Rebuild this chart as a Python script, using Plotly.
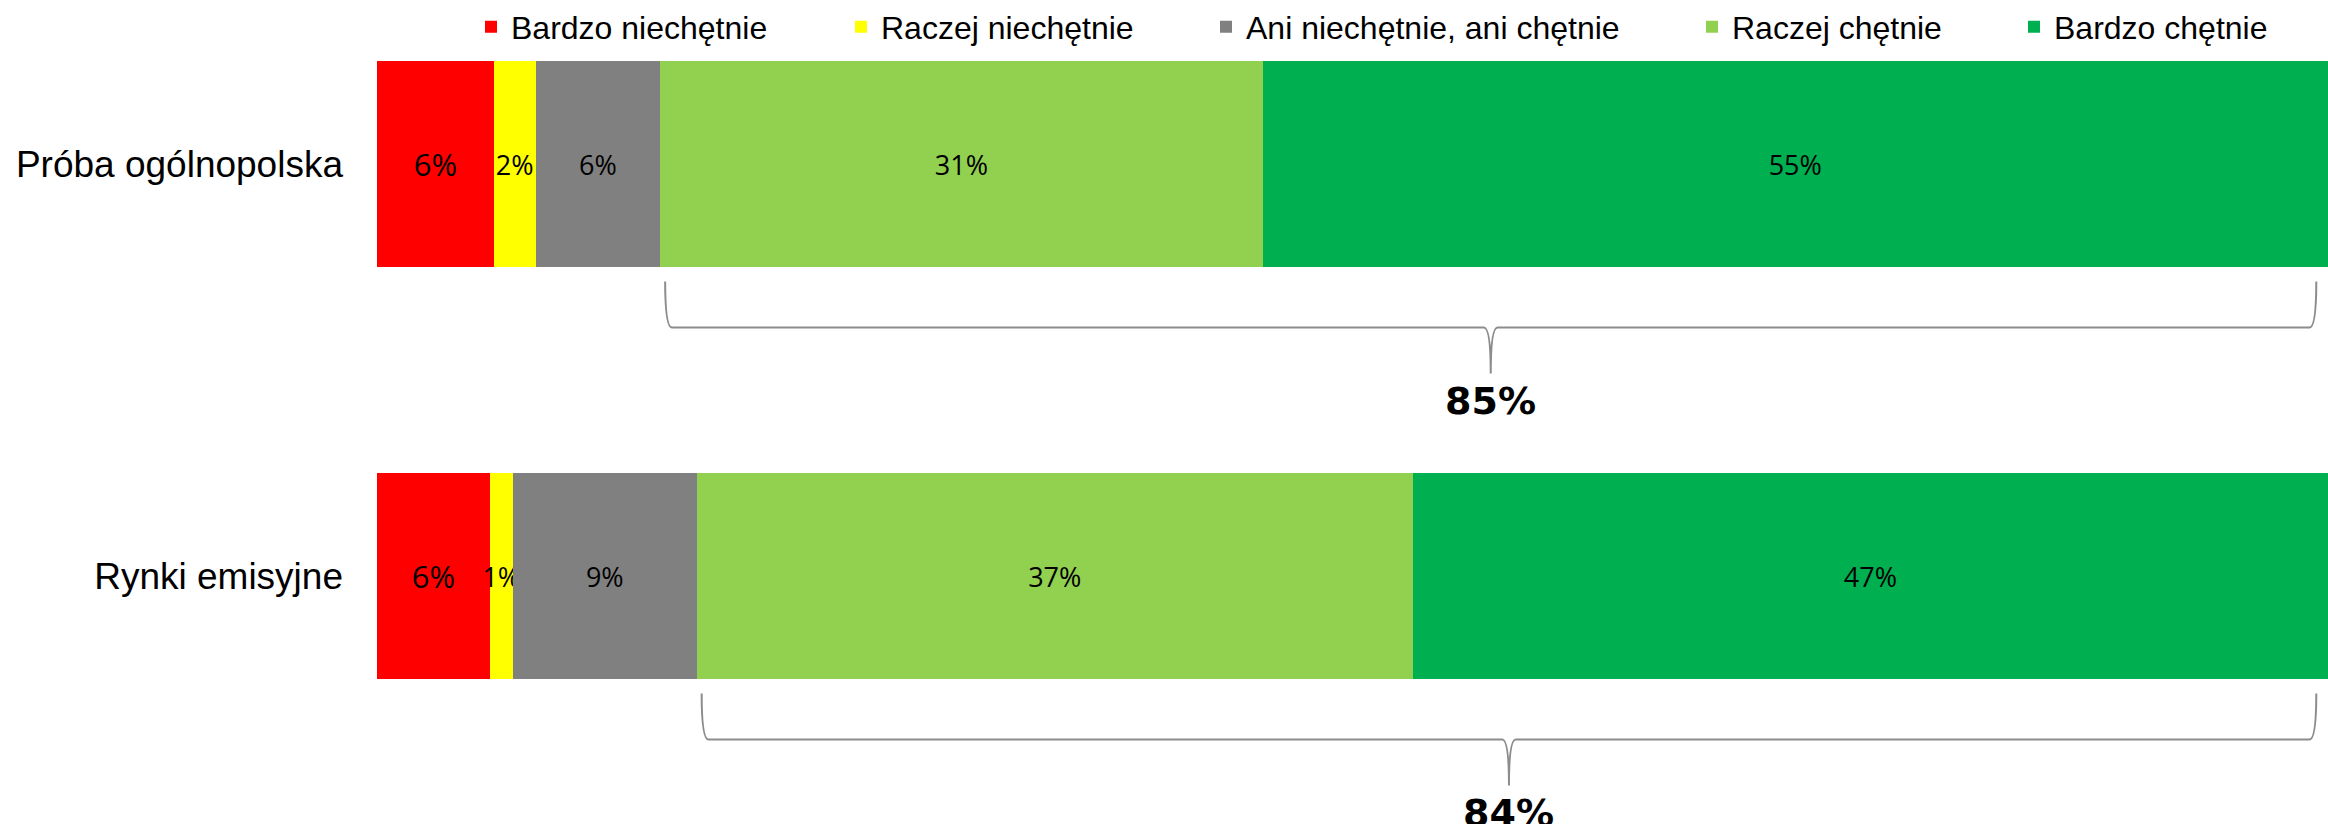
import plotly.graph_objects as go

categories = ["Próba ogólnopolska", "Rynki emisyjne"]
series_names = ["Bardzo niechętnie", "Raczej niechętnie", "Ani niechętnie, ani chętnie",
                "Raczej chętnie", "Bardzo chętnie"]
bardzo_niechetnie = [5.98, 5.78]
raczej_niechetnie = [2.15, 1.18]
ani_niechetnie_ani_chetnie = [6.39, 9.43]
raczej_chetnie = [30.87, 36.70]
bardzo_chetnie = [54.61, 46.91]
colors = ["#FF0000", "#FFFF00", "#808080", "#92D050", "#00B050"]

series_values = [bardzo_niechetnie, raczej_niechetnie, ani_niechetnie_ani_chetnie,
                 raczej_chetnie, bardzo_chetnie]
positive_totals = [round(a + b) for a, b in zip(raczej_chetnie, bardzo_chetnie)]

W, H = 2328, 824
ML = 377
y_r0, y_r1 = -0.601, 1.399
px_per_unit = H / (y_r1 - y_r0)

# legend entry symbol centres (pixels) as laid out in the reference
legend_centers = [494, 864, 1229, 1715, 2037]

fig = go.Figure()
legend_ids = ["legend", "legend2", "legend3", "legend4", "legend5"]
for i, (name, vals, col) in enumerate(zip(series_names, series_values, colors)):
    tf = dict(family="Open Sans", size=31 if i == 0 else 27, color="black")
    fig.add_trace(go.Bar(
        y=categories, x=vals, name=name, orientation="h",
        marker=dict(color=col, line=dict(width=0)),
        texttemplate="%{x:.0f}%", textposition="inside", insidetextanchor="middle",
        textangle=0, constraintext="none", textfont=tf, cliponaxis=False,
        hoverinfo="skip", legend=legend_ids[i],
    ))

# Braces under each bar spanning the positive answers
shapes = []
annotations = []
cat_index = {"Rynki emisyjne": 0, "Próba ogólnopolska": 1}
for r, cat in enumerate(categories):
    start = bardzo_niechetnie[r] + raczej_niechetnie[r] + ani_niechetnie_ani_chetnie[r]
    x0 = start + 0.25
    x1 = 100 - 0.6
    xm = (x0 + x1) / 2
    v_bottom = cat_index[cat] - 0.25

    def paper(off_px):
        v = v_bottom - off_px / px_per_unit
        return (v - y_r0) / (y_r1 - y_r0)

    yT, yM, yP, yL = paper(14), paper(60), paper(106), paper(134)
    rr = 0.35
    path = (f"M{x0},{yT} Q{x0},{yM} {x0+rr},{yM} L{xm-rr},{yM} "
            f"Q{xm},{yM} {xm},{yP} Q{xm},{yM} {xm+rr},{yM} "
            f"L{x1-rr},{yM} Q{x1},{yM} {x1},{yT}")
    shapes.append(dict(type="path", path=path, xref="x", yref="paper",
                       line=dict(color="#8C8C8C", width=2)))
    annotations.append(dict(x=xm, y=yL, xref="x", yref="paper",
                            text=f"<b>{positive_totals[r]}%</b>", showarrow=False,
                            font=dict(family="DejaVu Sans", size=38, color="black"),
                            xanchor="center", yanchor="middle"))

layout = dict(
    width=W, height=H,
    margin=dict(l=ML, r=0, t=0, b=0, autoexpand=False),
    barmode="stack", bargap=0.5,
    plot_bgcolor="white", paper_bgcolor="white",
    xaxis=dict(range=[0, 100], visible=False, fixedrange=True),
    yaxis=dict(type="category", categoryorder="array",
               categoryarray=["Rynki emisyjne", "Próba ogólnopolska"],
               range=[y_r0, y_r1], showgrid=False, zeroline=False, showline=False,
               ticks="", ticklabelstandoff=33,
               tickfont=dict(family="Liberation Sans, Arial", size=37, color="black")),
    shapes=shapes, annotations=annotations,
    showlegend=True,
)
for i, lid in enumerate(legend_ids):
    layout[lid] = dict(orientation="h", xref="container", yref="container",
                       x=(legend_centers[i] - 23) / W, xanchor="left",
                       y=1 - 27 / H, yanchor="middle", itemwidth=30,
                       font=dict(family="Liberation Sans, Arial", size=32, color="black"),
                       bgcolor="rgba(0,0,0,0)", borderwidth=0)
fig.update_layout(**layout)

fig.write_html("out.html", config={"displayModeBar": False},
               post_script="document.body.style.margin='0';document.body.style.overflow='hidden';")
